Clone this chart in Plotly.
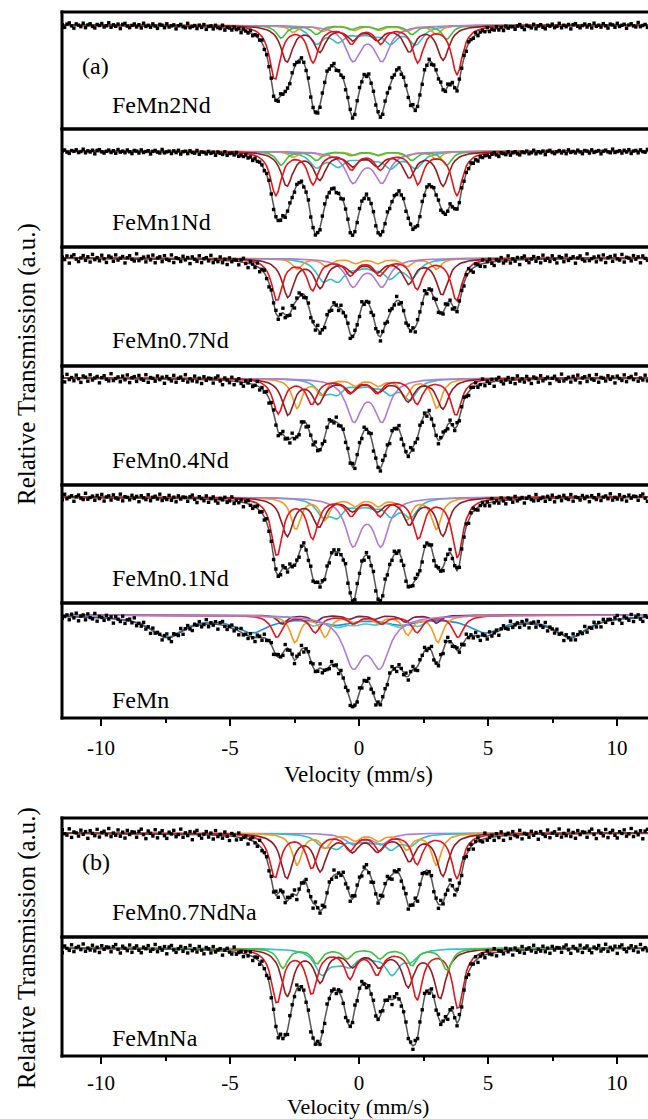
import numpy as np
import plotly.graph_objects as go

W, H = 648, 1119
FONT = "Liberation Serif"

# velocity channels (mm/s)
velocity = np.round(np.arange(-11.50, 11.51, 0.09), 3)

# typed scatter of the measured points around the fit (in units of the panel noise level)
residuals = [0.3, -0.8, 0.5, 1.0, -0.2, -1.1, 0.6, 0.1, -0.5, 0.9, -0.9, 0.2, 0.7, -0.4, -1.0, 0.4,
             0.0, 0.8, -0.6, -0.1, 1.1, -0.7, 0.3, -0.3, 0.6, -1.2, 0.5, 0.9, -0.2, -0.8, 0.1, 0.7,
             -0.5, 0.4, -0.9, 1.0, -0.3, 0.2, -0.6, 0.8, -0.1, -1.0, 0.6, 0.3, -0.7, 0.9, -0.4, 0.1,
             0.5, -1.1, 0.2, 0.7, -0.2, -0.6, 1.2, -0.5, 0.0, 0.4, -0.8, 0.6, -0.3, 0.9, -1.0, 0.2,
             0.5, -0.7, 0.8, -0.1, -0.4, 1.0, -0.9, 0.3, 0.1, -0.6, 0.7, -0.2, 0.4, -1.1, 0.6, 0.0,
             -0.5, 0.9, -0.8, 0.2, 0.5, -0.3, 1.1, -0.7, 0.1, -0.4, 0.8, -0.6, 0.3, -1.0, 0.7, -0.2, 0.4]

# sample names
samples = ["FeMn2Nd", "FeMn1Nd", "FeMn0.7Nd", "FeMn0.4Nd", "FeMn0.1Nd", "FeMn", "FeMn0.7NdNa", "FeMnNa"]

# subspectra: (line positions mm/s, line depths in 0.1 % absorption)
FeMn2Nd = {
    "cyan":   ([-1.64, -0.80, -0.05, 0.55, 1.22, 2.20], [17, 14, 6, 6, 16, 18]),
    "orange": ([-2.55, -1.40, -0.18, 0.78, 1.85, 3.00], [7, 6, 5, 5, 6, 9]),
    "green":  ([-3.02, -1.65, -0.31, 0.71, 2.05, 3.40], [13, 9, 4, 4, 9, 14]),
    "purple": ([-0.23, 0.89], [34, 34]),
    "maroon": ([-2.80, -1.52, -0.25, 0.71, 1.95, 3.26], [36, 25, 13, 13, 25, 34]),
    "red":    ([-3.26, -1.78, -0.29, 0.83, 2.28, 3.80], [54, 36, 17, 17, 36, 49]),
}
FeMn1Nd = {
    "cyan":   ([-1.64, -0.80, -0.05, 0.55, 1.22, 2.20], [15, 13, 5, 5, 15, 16]),
    "orange": ([-2.55, -1.40, -0.18, 0.78, 1.85, 3.00], [6, 5, 4, 4, 5, 8]),
    "green":  ([-3.02, -1.65, -0.31, 0.71, 2.05, 3.40], [14, 9, 4, 4, 9, 14]),
    "purple": ([-0.23, 0.89], [30, 30]),
    "maroon": ([-2.80, -1.52, -0.25, 0.71, 1.95, 3.26], [34, 27, 13, 13, 25, 34]),
    "red":    ([-3.22, -1.78, -0.29, 0.83, 2.28, 3.80], [44, 32, 17, 17, 32, 44]),
}
FeMn07Nd = {
    "cyan":   ([-1.40, -0.80, -0.10, 0.55, 1.20, 2.05], [19, 18, 6, 6, 17, 18]),
    "orange": ([-2.40, -1.26, -0.13, 0.73, 1.86, 3.00], [11, 8, 5, 5, 8, 11]),
    "purple": ([-0.23, 0.89], [27, 27]),
    "maroon": ([-2.75, -1.50, -0.25, 0.70, 1.92, 3.22], [38, 28, 12, 12, 24, 36]),
    "red":    ([-3.18, -1.80, -0.33, 0.80, 2.25, 3.78], [42, 31, 16, 16, 30, 42]),
}
FeMn04Nd = {
    "cyan":   ([-1.40, -0.85, -0.05, 0.55, 1.20, 1.98], [13, 13, 5, 5, 13, 20]),
    "orange": ([-2.40, -1.45, -0.15, 0.75, 1.78, 3.02], [30, 16, 7, 7, 18, 30]),
    "purple": ([-0.20, 0.89], [41, 41]),
    "maroon": ([-2.75, -1.58, -0.30, 0.75, 1.90, 3.25], [36, 24, 12, 12, 22, 30]),
    "red":    ([-3.13, -1.83, -0.35, 0.70, 2.25, 3.76], [35, 25, 14, 14, 25, 37]),
}
FeMn01Nd = {
    "cyan":   ([-1.40, -0.85, -0.05, 0.55, 1.25, 2.00], [16, 16, 6, 6, 16, 18]),
    "orange": ([-2.45, -1.32, -0.15, 0.75, 1.85, 3.00], [32, 22, 8, 8, 22, 32]),
    "purple": ([-0.23, 0.85], [46, 46]),
    "maroon": ([-2.78, -1.55, -0.25, 0.72, 1.95, 3.25], [38, 28, 12, 12, 26, 38]),
    "red":    ([-3.18, -1.80, -0.30, 0.82, 2.30, 3.82], [58, 40, 17, 17, 40, 60]),
}
FeMn = {
    "blue":   ([-7.44, -4.14, -0.86, 1.62, 4.90, 8.20], [21, 16, 8, 8, 16, 21]),
    "teal":   ([-1.80, -0.85, -0.15, 0.60, 1.50, 2.30], [9, 9, 6, 6, 9, 9]),
    "plum":   ([-2.98, -1.70, -0.40, 0.60, 1.80, 3.00], [9, 7, 4, 4, 7, 8]),
    "orange": ([-2.48, -1.31, -0.15, 0.73, 1.89, 3.06], [27, 21, 7, 7, 19, 27]),
    "red":    ([-3.18, -1.70, -0.22, 0.88, 2.25, 3.84], [22, 17, 8, 8, 17, 22]),
    "purple": ([-0.23, 0.81], [47, 47]),
}
FeMn07NdNa = {
    "purple": ([-0.25, 0.85], [11, 11]),
    "cyan":   ([-1.40, -0.85, -0.10, 0.55, 1.25, 2.00], [11, 12, 6, 6, 14, 11]),
    "orange": ([-2.40, -1.30, -0.15, 0.75, 1.85, 3.00], [32, 14, 7, 7, 16, 32]),
    "maroon": ([-2.80, -1.50, -0.25, 0.72, 1.95, 3.25], [44, 36, 16, 16, 26, 42]),
    "red":    ([-3.26, -1.83, -0.35, 0.80, 2.25, 3.80], [44, 34, 16, 16, 30, 45]),
}
FeMnNa = {
    "cyan":   ([-1.44, -0.85, -0.35, 0.55, 1.28, 2.00], [24, 8, 14, 6, 24, 10]),
    "maroon": ([-2.78, -1.50, -0.25, 0.78, 1.90, 3.14], [47, 32, 16, 16, 36, 49]),
    "red":    ([-3.18, -1.83, -0.35, 0.70, 2.25, 3.84], [54, 44, 28, 24, 50, 60]),
    "green":  ([-2.95, -1.63, -0.47, 0.81, 2.05, 3.41], [20, 15, 10, 10, 17, 22]),
}
spectra = [FeMn2Nd, FeMn1Nd, FeMn07Nd, FeMn04Nd, FeMn01Nd, FeMn, FeMn07NdNa, FeMnNa]
noise_level = [2.5, 2.0, 4.0, 4.0, 3.5, 4.0, 4.5, 4.0]

# ---------- styling / geometry ----------
COL = {"red": "#e8141c", "maroon": "#941a22", "green": "#3ec43a", "orange": "#f59a22",
       "cyan": "#2cc3c8", "purple": "#b07ad8", "blue": "#1f8fd2", "plum": "#7b2052", "teal": "#44c9d8"}
FWHM = {"red": 0.5, "maroon": 0.55, "green": 0.45, "orange": 0.45, "cyan": 0.65,
        "purple": 0.7, "blue": 1.6, "plum": 0.4, "teal": 0.8}
# panel frames in pixels: (top, bottom, baseline)
frames = [(12, 129, 25), (129, 247, 151), (247, 366, 258), (366, 485, 378),
          (485, 603, 497), (603, 718, 615), (818, 937, 833), (937, 1056, 948)]
label_y = [105, 222, 340, 460, 578, 700, 912, 1038]

X0 = 62
PX_PER_UNIT = 25.8
V_AT_0 = 359
xrange_ = [(X0 - V_AT_0) / PX_PER_UNIT, (W - V_AT_0) / PX_PER_UNIT]


def absorption(v, pos, dep, w):
    out = np.zeros_like(v, dtype=float)
    for p, d in zip(pos, dep):
        out += d / (1.0 + (2.0 * (v - p) / w) ** 2)
    return out / 1000.0


fig = go.Figure()
for i, spec in enumerate(spectra):
    xa = "x" if i < 6 else "x2"
    ya = "y" if i == 0 else f"y{i + 1}"
    total = np.zeros_like(velocity, dtype=float)
    for name, (pos, dep) in spec.items():
        w = FWHM[name]
        if name == "purple" and samples[i] == "FeMn":
            w = 0.9
        a = absorption(velocity, pos, dep, w)
        total += a
        fig.add_trace(go.Scatter(x=velocity, y=1 - a, mode="lines", xaxis=xa, yaxis=ya,
                                 line=dict(color=COL[name], width=1.6), showlegend=False,
                                 hoverinfo="skip"))
    fit = 1 - total
    n = len(residuals)
    meas = fit + np.array([residuals[(k + 11 * i) % n] for k in range(len(velocity))]) * noise_level[i] / 1000.0
    fig.add_trace(go.Scatter(x=velocity, y=fit, mode="lines", xaxis=xa, yaxis=ya,
                             line=dict(color="#555555", width=1.5), showlegend=False))
    fig.add_trace(go.Scatter(x=velocity, y=meas, mode="markers", xaxis=xa, yaxis=ya,
                             marker=dict(symbol="square", size=3.4, color="black"), showlegend=False))

layout = dict(width=W, height=H, margin=dict(l=0, r=0, t=0, b=0), autosize=False,
              paper_bgcolor="white", plot_bgcolor="white", showlegend=False)

tick_common = dict(range=xrange_, domain=[X0 / W, 1.0], tickvals=[-10, -5, 0, 5, 10],
                   ticktext=["-10", "-5", "0", "5", "10"], ticks="outside", ticklen=7, tickwidth=2,
                   tickcolor="black", showgrid=False, zeroline=False, showline=False,
                   tickfont=dict(family=FONT, size=21, color="black"),
                   minor=dict(tickvals=[-7.5, -2.5, 2.5, 7.5], ticks="outside", ticklen=4,
                              tickwidth=2, tickcolor="black", showgrid=False))
layout["xaxis"] = dict(anchor="y6", ticklabelstandoff=4, **tick_common)
layout["xaxis2"] = dict(anchor="y8", ticklabelstandoff=1, **tick_common)

for i, (top, bot, base) in enumerate(frames):
    key = "yaxis" if i == 0 else f"yaxis{i + 1}"
    layout[key] = dict(domain=[1 - bot / H, 1 - top / H],
                       range=[1 - (bot - base) / 1000.0, 1 + (base - top) / 1000.0],
                       visible=False, anchor="x" if i < 6 else "x2")

fig.update_layout(**layout)

# frames
shapes = []
def hline(py):
    shapes.append(dict(type="line", xref="paper", yref="paper", x0=(X0 - 1.5) / W, x1=1.0,
                       y0=1 - py / H, y1=1 - py / H, line=dict(color="black", width=3)))
for top, bot, base in frames:
    hline(top)
    hline(bot)
for t, b in [(12, 718), (818, 1056)]:
    shapes.append(dict(type="line", xref="paper", yref="paper", x0=X0 / W, x1=X0 / W,
                       y0=1 - (b + 1.5) / H, y1=1 - (t - 1.5) / H, line=dict(color="black", width=3)))
fig.update_layout(shapes=shapes)

# text
ann = []
def text(s, px, py, size=24, xanchor="left", angle=0):
    ann.append(dict(text=s, x=px / W, y=1 - py / H, xref="paper", yref="paper", showarrow=False,
                    xanchor=xanchor, yanchor="middle", textangle=angle,
                    font=dict(family=FONT, size=size, color="black")))
for s, ly in zip(samples, label_y):
    text(s, 110, ly)
text("(a)", 80, 66)
text("(b)", 80, 862)
text("Velocity (mm/s)", 358, 774, size=23, xanchor="center")
text("Velocity (mm/s)", 358, 1106, size=22, xanchor="center")
text("Relative Transmission (a.u.)", 27, 364, size=25, xanchor="center", angle=-90)
text("Relative Transmission (a.u.)", 27, 948, size=25, xanchor="center", angle=-90)
fig.update_layout(annotations=ann)

fig.write_html("out.html", config={"displayModeBar": False},
               post_script="document.body.style.margin='0px';document.body.style.padding='0px';")
